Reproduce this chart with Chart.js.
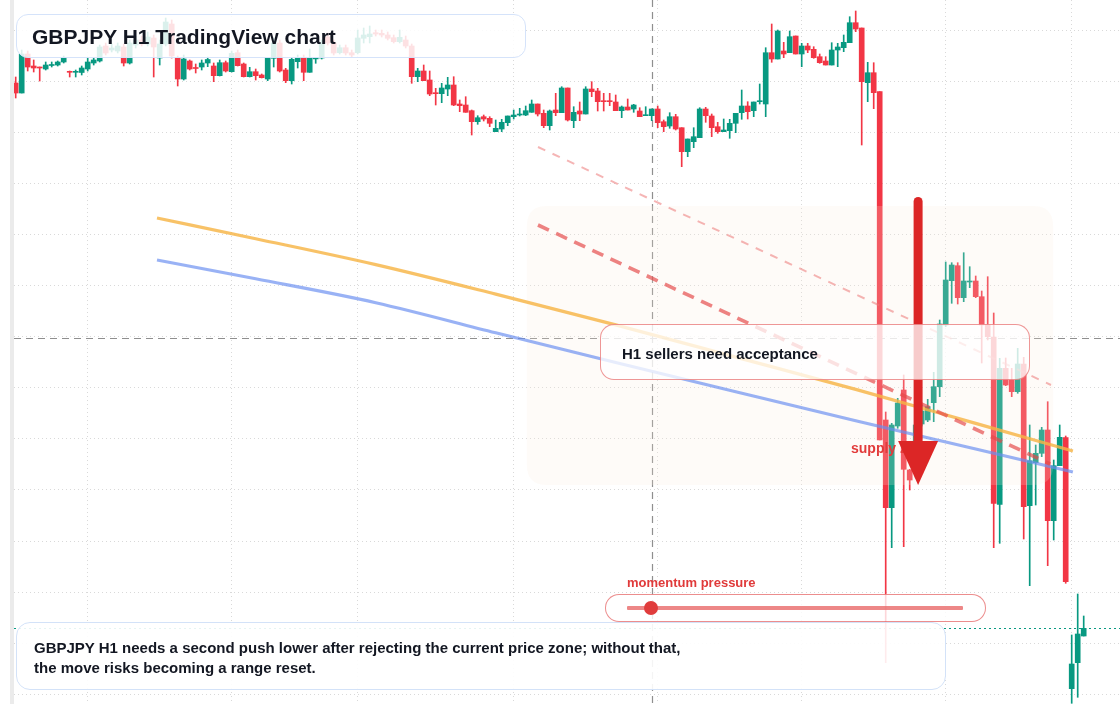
<!DOCTYPE html>
<html><head><meta charset="utf-8">
<script src="https://cdn.jsdelivr.net/npm/chart.js@4.4.1/dist/chart.umd.min.js"></script>
<style>
html,body{margin:0;padding:0;background:#fff;}
#wrap{position:relative;width:1120px;height:704px;overflow:hidden;background:#fff;font-family:"Liberation Sans",Arial,Helvetica,sans-serif;}
#c{position:absolute;left:0;top:0;}
.strip{position:absolute;left:10px;top:0;width:4px;height:704px;background:#ebebeb;}
.box{position:absolute;box-sizing:border-box;}
#title{left:16px;top:14px;width:510px;height:44px;border:1.5px solid #d5e3fa;border-radius:12px;background:rgba(255,255,255,0.85);}
#titleTxt{position:absolute;left:32px;top:25.5px;font-size:21px;line-height:21px;font-weight:700;color:#131722;white-space:nowrap;}
#h1box{left:600px;top:324px;width:430px;height:56px;border:1.3px solid rgba(226,80,80,0.6);border-radius:14px;background:rgba(255,255,255,0.76);}
#h1Txt{position:absolute;left:622px;top:344px;font-size:15px;line-height:20px;font-weight:700;color:#131722;white-space:nowrap;}
#supply{position:absolute;left:851px;top:441px;font-size:14px;line-height:14px;font-weight:700;color:#e23b3b;white-space:nowrap;}
#momLbl{position:absolute;left:627px;top:576px;font-size:13px;line-height:13px;font-weight:700;color:#e03a3a;white-space:nowrap;}
#pill{left:605px;top:594px;width:381px;height:28px;border:1.3px solid rgba(226,80,80,0.65);border-radius:14px;background:rgba(255,255,255,0.8);}
#track{position:absolute;left:627px;top:606px;width:336px;height:4px;background:rgba(232,105,105,0.8);border-radius:1px;}
#dot{position:absolute;top:600.7px;width:14px;height:14px;border-radius:50%;background:#e03c3c;}
#bottom{left:16px;top:622px;width:930px;height:67.5px;border:1.5px solid #d3e2f8;border-radius:14px;background:rgba(255,255,255,0.9);}
#bottomTxt{position:absolute;left:34px;top:638px;font-size:15px;line-height:20px;font-weight:700;color:#131722;white-space:nowrap;}
#arrowSvg{position:absolute;left:0;top:0;pointer-events:none;}
</style></head><body>
<div id="wrap">
  <canvas id="c" width="1120" height="704"></canvas>
  <div class="strip"></div>
  <div id="supply">supply zone</div>
  <svg id="arrowSvg" width="1120" height="704"><line id="shaft" stroke="#dc2626" stroke-width="9" stroke-linecap="round"/><polygon id="head" fill="#dc2626"/></svg>
  <div class="box" id="title"></div>
  <div id="titleTxt">GBPJPY H1 TradingView chart</div>
  <div class="box" id="h1box"></div>
  <div id="h1Txt">H1 sellers need acceptance</div>
  <div id="momLbl">momentum pressure</div>
  <div class="box" id="pill"></div>
  <div id="track"></div>
  <div id="dot"></div>
  <div class="box" id="bottom"></div>
  <div id="bottomTxt">GBPJPY H1 needs a second push lower after rejecting the current price zone; without that,<br>the move risks becoming a range reset.</div>
</div>
<script>
// ---- OHLC data (GBPJPY H1), one entry per hourly candle ----
const opens = [
199.17,199.07,199.46,199.34,199.33,199.31,199.345,199.35,199.38,199.285,
199.277,199.275,199.31,199.37,199.39,199.54,199.50,199.49,199.53,199.37,
199.55,199.60,199.56,199.62,199.42,199.56,199.76,199.42,199.21,199.39,
199.325,199.33,199.37,199.34,199.243,199.373,199.283,199.473,199.36,199.233,
199.283,199.25,199.21,199.417,199.57,199.30,199.193,199.383,199.417,199.277,
199.411,199.42,199.63,199.57,199.473,199.523,199.473,199.473,199.617,199.633,
199.673,199.667,199.65,199.623,199.583,199.60,199.54,199.233,199.29,199.20,
199.073,199.063,199.11,199.15,198.96,198.95,198.893,198.783,198.833,198.817,
198.683,198.71,198.773,198.833,198.85,198.85,198.877,198.96,198.867,198.743,
198.90,198.873,199.12,198.793,198.89,198.86,199.11,199.09,198.99,198.99,
198.98,198.893,198.93,198.91,198.89,198.843,198.843,198.91,198.783,198.74,
198.833,198.723,198.483,198.583,198.623,198.91,198.84,198.733,198.683,198.693,
198.767,198.873,198.94,198.893,198.983,198.96,199.473,199.41,199.49,199.473,
199.64,199.46,199.54,199.507,199.433,199.39,199.35,199.50,199.523,199.573,
199.773,199.72,199.173,199.273,199.083,195.80,194.923,195.74,196.10,195.30,
195.30,195.76,195.80,195.973,196.133,196.75,197.193,197.343,197.023,197.18,
197.19,197.033,196.75,196.63,194.957,196.317,196.20,196.083,196.36,194.943,
195.373,195.467,195.70,194.793,195.343,195.623,193.113,193.373,193.64];
const highs = [
199.23,199.50,199.49,199.40,199.33,199.38,199.38,199.39,199.44,199.29,
199.30,199.34,199.42,199.42,199.55,199.57,199.56,199.57,199.56,199.60,
199.64,199.64,199.68,199.65,199.60,199.82,199.80,199.44,199.45,199.40,
199.36,199.40,199.43,199.37,199.40,199.39,199.49,199.50,199.37,199.327,
199.31,199.26,199.423,199.62,199.60,199.317,199.423,199.45,199.45,199.51,
199.423,199.60,199.67,199.60,199.55,199.55,199.50,199.70,199.72,199.74,
199.70,199.70,199.68,199.65,199.70,199.64,199.56,199.317,199.35,199.29,
199.117,199.167,199.227,199.233,199.00,199.033,198.90,198.843,198.85,198.833,
198.80,198.807,198.84,198.90,198.917,198.94,199.00,198.96,198.90,198.90,
199.067,199.133,199.12,198.933,198.98,199.133,199.183,199.117,199.067,199.067,
199.05,198.94,199.01,198.957,198.923,198.933,198.91,198.94,198.80,198.873,
198.857,198.723,198.61,198.723,198.923,198.927,198.86,198.777,198.81,198.807,
198.867,199.10,198.983,198.98,199.16,199.523,199.76,199.70,199.577,199.69,
199.64,199.567,199.567,199.533,199.46,199.433,199.573,199.567,199.65,199.833,
199.89,199.72,199.377,199.373,199.083,195.88,195.767,196.017,196.25,195.307,
195.85,195.95,196.007,196.277,196.80,197.38,197.373,197.373,197.473,197.333,
197.24,197.09,197.233,196.87,196.417,196.42,196.317,196.517,196.427,195.75,
195.55,195.727,195.983,195.40,195.75,195.64,193.65,194.06,193.84];
const lows = [
199.02,199.07,199.29,199.28,199.19,199.30,199.33,199.34,199.37,199.23,
199.23,199.25,199.29,199.35,199.38,199.45,199.48,199.47,199.34,199.36,
199.52,199.54,199.54,199.23,199.35,199.54,199.42,199.14,199.20,199.30,
199.27,199.30,199.333,199.183,199.24,199.28,199.28,199.34,199.23,199.23,
199.20,199.22,199.193,199.33,199.28,199.173,199.16,199.32,199.193,199.277,
199.367,199.41,199.55,199.45,199.46,199.45,199.43,199.46,199.57,199.57,
199.64,199.63,199.60,199.57,199.57,199.52,199.167,199.183,199.193,199.043,
198.95,198.973,199.043,198.943,198.883,198.877,198.65,198.757,198.79,198.733,
198.683,198.683,198.743,198.81,198.84,198.843,198.877,198.84,198.723,198.70,
198.843,198.873,198.79,198.723,198.793,198.86,199.033,198.89,198.89,198.943,
198.893,198.823,198.90,198.877,198.833,198.843,198.793,198.723,198.683,198.717,
198.70,198.333,198.433,198.523,198.623,198.777,198.633,198.667,198.683,198.617,
198.673,198.807,198.81,198.833,198.96,198.833,199.377,199.41,199.423,199.473,
199.46,199.333,199.473,199.417,199.367,199.35,199.35,199.333,199.483,199.573,
199.683,198.55,198.983,198.913,195.60,193.373,194.523,195.717,194.533,195.10,
195.22,195.74,195.783,195.783,196.033,196.733,196.967,196.96,196.983,197.123,
197.023,196.37,196.60,194.523,194.567,196.143,196.033,196.067,194.61,194.143,
194.95,195.433,194.343,194.60,195.343,194.167,192.967,193.027,193.64];
const closes = [
199.07,199.46,199.33,199.32,199.32,199.35,199.355,199.38,199.42,199.277,
199.285,199.32,199.38,199.40,199.53,199.47,199.52,199.54,199.37,199.57,
199.60,199.56,199.63,199.53,199.56,199.78,199.44,199.21,199.41,199.31,
199.315,199.37,199.405,199.243,199.373,199.29,199.467,199.343,199.233,199.283,
199.243,199.223,199.417,199.57,199.29,199.193,199.407,199.417,199.277,199.417,
199.417,199.57,199.57,199.47,199.523,199.47,199.45,199.62,199.65,199.66,
199.66,199.65,199.617,199.583,199.627,199.54,199.233,199.29,199.193,199.06,
199.063,199.12,199.15,198.95,198.943,198.877,198.783,198.823,198.81,198.767,
198.717,198.777,198.84,198.85,198.86,198.893,198.96,198.86,198.743,198.89,
198.873,199.12,198.80,198.877,198.86,199.11,199.083,198.983,198.983,198.983,
198.893,198.93,198.90,198.95,198.833,198.85,198.91,198.773,198.733,198.833,
198.71,198.483,198.61,198.633,198.91,198.843,198.723,198.683,198.70,198.767,
198.867,198.94,198.883,198.98,198.99,199.473,199.41,199.69,199.46,199.633,
199.46,199.54,199.50,199.423,199.373,199.35,199.50,199.53,199.577,199.773,
199.71,199.183,199.273,199.073,195.60,194.923,195.75,195.97,195.307,195.20,
195.75,195.89,195.933,196.133,196.76,197.20,197.35,197.023,197.19,197.187,
197.033,196.75,196.633,194.967,196.317,196.15,196.083,196.36,194.933,195.393,
195.467,195.70,194.793,195.343,195.627,194.183,193.36,193.66,193.717];

// ---- overlay series (candle index, price) ----
const maOrangeIdx   = [23.55, 40, 60, 80, 100, 120, 140, 160, 176.2];
const maOrangeVals  = [197.82, 197.613, 197.354, 197.059, 196.751, 196.429, 196.106, 195.766, 195.49];
const maBlueIdx     = [23.55, 40, 60, 80, 100, 120, 140, 160, 176.2];
const maBlueVals    = [197.40, 197.212, 196.973, 196.672, 196.375, 196.083, 195.793, 195.51, 195.28];
const trendThinIdx  = [87.05, 172.55];
const trendThinVals = [198.53, 196.15];
const trendThickIdx = [87.05, 172.4];
const trendThickVals= [197.75, 195.36];

// ---- axis / annotation values ----
const xGridIdx   = [11.93, 36, 56.93, 82.93, 106.93, 130.93, 154.93, 175.93];
const yGridPrices= [199.70,199.189,198.678,198.167,197.656,197.145,196.634,196.123,195.612,195.101,194.590,194.079,193.568,193.057];
const xRange = [-0.283, 184.05];
const yRange = [192.96, 200.00];
const zone = {x0: 85.2, x1: 172.9, top: 197.94, bottom: 195.15};
const arrow = {x: 150.4, top: 198.03, base: 195.59, tip: 195.15};
const crosshair = {x: 105.97, y: 196.62};
const momentum = 0.07;

const UP = '#089981', DOWN = '#f23645';
const cols = opens.map((o, i) => closes[i] >= o ? UP : DOWN);
const wickData = opens.map((o, i) => ({x: i, y: [lows[i], highs[i]]}));
const bodyData = opens.map((o, i) => ({x: i, y: [o, closes[i]]}));
const pts = (xs, ys) => xs.map((v, i) => ({x: v, y: ys[i]}));

const overlay = {
  id: 'overlay',
  beforeDatasetsDraw(chart) {
    const {ctx, chartArea: a, scales: {x, y}} = chart;
    ctx.save();
    ctx.setLineDash([7, 5]); ctx.lineWidth = 1.2; ctx.strokeStyle = 'rgba(115,115,115,0.8)';
    const cx = Math.round(x.getPixelForValue(crosshair.x)) + 0.5;
    const cy = Math.round(y.getPixelForValue(crosshair.y)) + 0.5;
    ctx.beginPath(); ctx.moveTo(cx, a.top); ctx.lineTo(cx, a.bottom);
    ctx.moveTo(a.left, cy); ctx.lineTo(a.right, cy); ctx.stroke();
    ctx.setLineDash([2, 3]); ctx.strokeStyle = UP; ctx.lineWidth = 1;
    const ly = Math.round(y.getPixelForValue(closes[closes.length - 1])) + 0.5;
    ctx.beginPath(); ctx.moveTo(a.left, ly); ctx.lineTo(a.right, ly); ctx.stroke();
    ctx.restore();
  },
  afterDatasetDraw(chart, args) {
    if (args.index !== 1) return;
    const {ctx, scales: {x, y}} = chart;
    const l = x.getPixelForValue(zone.x0), r = x.getPixelForValue(zone.x1);
    const t = y.getPixelForValue(zone.top), b = y.getPixelForValue(zone.bottom);
    const rad = 20;
    ctx.save();
    ctx.fillStyle = 'rgba(250,234,218,0.2)';
    ctx.beginPath();
    ctx.moveTo(l + rad, t); ctx.lineTo(r - rad, t); ctx.quadraticCurveTo(r, t, r, t + rad);
    ctx.lineTo(r, b - rad); ctx.quadraticCurveTo(r, b, r - rad, b);
    ctx.lineTo(l + rad, b); ctx.quadraticCurveTo(l, b, l, b - rad);
    ctx.lineTo(l, t + rad); ctx.quadraticCurveTo(l, t, l + rad, t);
    ctx.closePath(); ctx.fill();
    ctx.restore();
  },
  afterDraw(chart) {
    const {scales: {x, y}} = chart;
    const ax = x.getPixelForValue(arrow.x);
    const yt = y.getPixelForValue(arrow.top), yb = y.getPixelForValue(arrow.base), yp = y.getPixelForValue(arrow.tip);
    const sh = document.getElementById('shaft');
    sh.setAttribute('x1', ax); sh.setAttribute('x2', ax);
    sh.setAttribute('y1', yt + 4.5); sh.setAttribute('y2', yb + 4);
    document.getElementById('head').setAttribute('points', `${ax - 20},${yb} ${ax + 20},${yb} ${ax},${yp}`);
    const tr = document.getElementById('track');
    document.getElementById('dot').style.left = (tr.offsetLeft + momentum * tr.offsetWidth - 7) + 'px';
  }
};

const gridOpts = {color: 'rgba(0,0,0,0.15)', lineWidth: 1, drawTicks: false, offset: false};
new Chart(document.getElementById('c'), {
  type: 'bar',
  data: {
    datasets: [
      {type: 'bar', data: wickData, backgroundColor: cols, barThickness: 1, grouped: false, order: 10, borderWidth: 0},
      {type: 'bar', data: bodyData, backgroundColor: cols, barThickness: 5, grouped: false, order: 9, borderWidth: 0, minBarLength: 1},
      {type: 'line', data: pts(maOrangeIdx, maOrangeVals), borderColor: 'rgba(247,180,70,0.82)', borderWidth: 3.2, pointRadius: 0, cubicInterpolationMode: 'monotone', order: 4},
      {type: 'line', data: pts(maBlueIdx, maBlueVals), borderColor: 'rgba(105,142,240,0.68)', borderWidth: 3.2, pointRadius: 0, cubicInterpolationMode: 'monotone', order: 3},
      {type: 'line', data: pts(trendThinIdx, trendThinVals), borderColor: 'rgba(236,120,120,0.55)', borderWidth: 2, borderDash: [8, 8], pointRadius: 0, order: 2},
      {type: 'line', data: pts(trendThickIdx, trendThickVals), borderColor: 'rgba(228,72,72,0.68)', borderWidth: 3.6, borderDash: [12, 8], pointRadius: 0, order: 1}
    ]
  },
  options: {
    responsive: false, devicePixelRatio: 1, animation: false, events: [],
    layout: {padding: {left: 14, right: 0, top: 0, bottom: 0}},
    plugins: {legend: {display: false}, tooltip: {enabled: false}},
    scales: {
      x: {type: 'linear', min: xRange[0], max: xRange[1], offset: false,
          grid: gridOpts, border: {display: false, dash: [1, 3]}, ticks: {display: false},
          afterBuildTicks: s => { s.ticks = xGridIdx.map(v => ({value: v})); },
          afterFit: s => { s.height = 0; }},
      y: {type: 'linear', min: yRange[0], max: yRange[1], beginAtZero: false,
          grid: gridOpts, border: {display: false, dash: [1, 3]}, ticks: {display: false},
          afterBuildTicks: s => { s.ticks = yGridPrices.map(v => ({value: v})); },
          afterFit: s => { s.width = 0; }}
    }
  },
  plugins: [overlay]
});
</script>
</body></html>
